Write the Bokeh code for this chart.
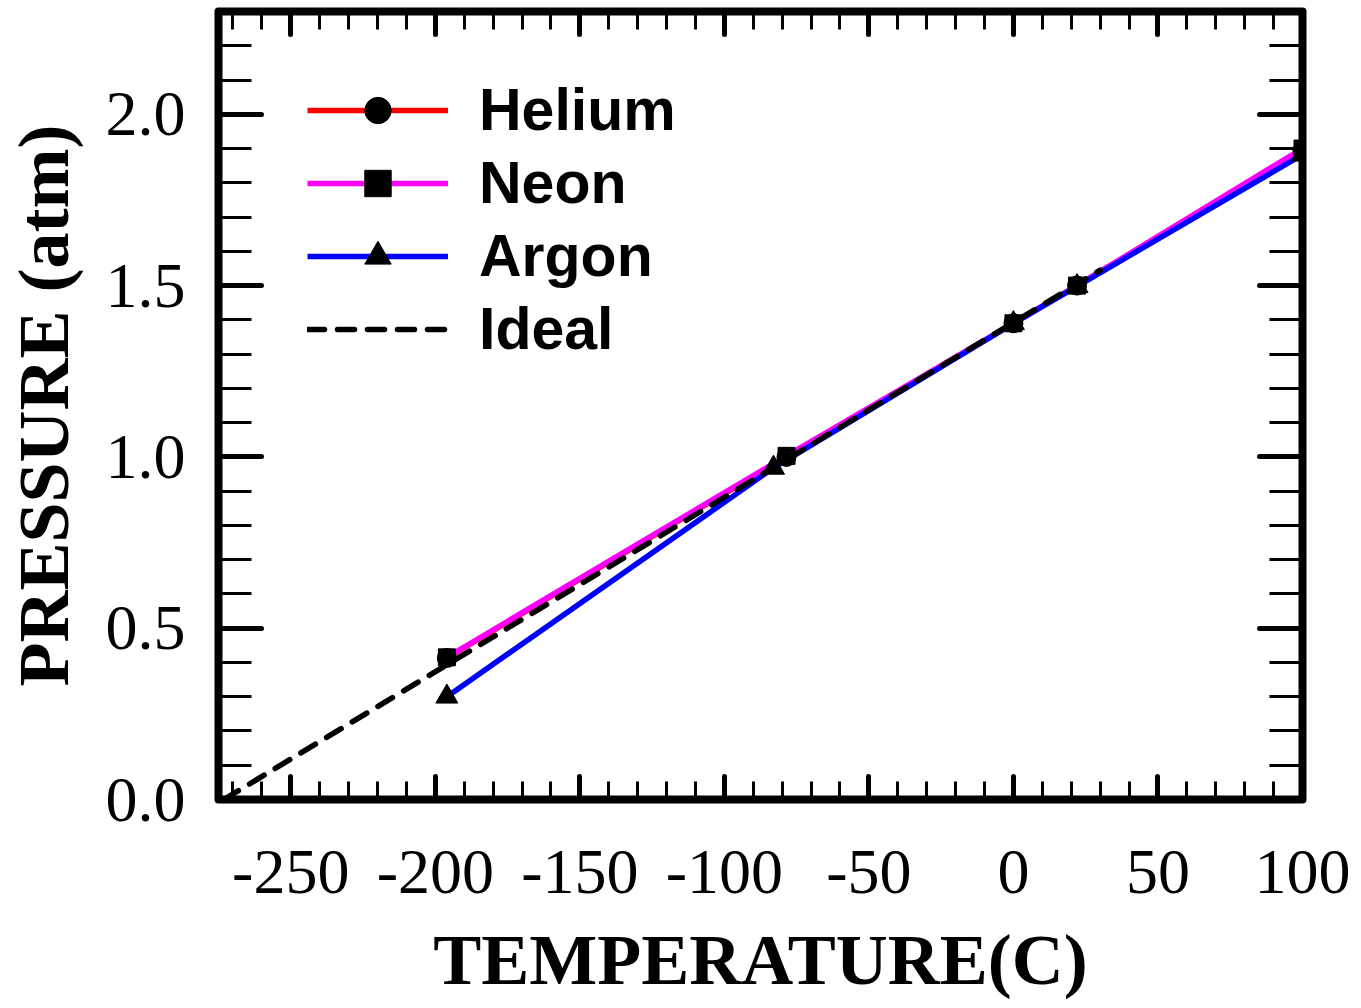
from bokeh.plotting import figure
from bokeh.models import LinearAxis, FixedTicker
from bokeh.embed import file_html
from bokeh.resources import INLINE

# ---- data ----
helium_t = [-196, -78.5, 0, 22, 100]
helium_p = [0.413, 1.00, 1.39, 1.50, 1.895]
neon_t = [-196, -78.5, 0, 22, 100]
neon_p = [0.415, 1.003, 1.39, 1.50, 1.90]
argon_t = [-196, -83, 0, 22, 100]
argon_p = [0.30, 0.968, 1.39, 1.498, 1.882]
ideal_t = [-273.15, 30]
ideal_p = [0.0, 1.545]

x_major = [-250, -200, -150, -100, -50, 0, 50, 100]
x_labels = ["-250", "-200", "-150", "-100", "-50", "0", "50", "100"]
x_minor = [-270, -260, -250, -240, -230, -220, -210, -200, -190, -180, -170, -160,
           -150, -140, -130, -120, -110, -100, -90, -80, -70, -60, -50, -40, -30,
           -20, -10, 0, 10, 20, 30, 40, 50, 60, 70, 80, 90, 100]
y_major = [0.0, 0.5, 1.0, 1.5, 2.0]
y_labels = ["0.0", "0.5", "1.0", "1.5", "2.0"]
y_minor = [0.0, 0.1, 0.2, 0.3, 0.4, 0.5, 0.6, 0.7, 0.8, 0.9, 1.0, 1.1, 1.2, 1.3,
           1.4, 1.5, 1.6, 1.7, 1.8, 1.9, 2.0, 2.1, 2.2, 2.3]

p = figure(width=1361, height=1008, x_range=(-275, 100), y_range=(0, 2.3),
           output_backend="svg", toolbar_location=None,
           min_border_left=218, min_border_right=59, min_border_top=11,
           min_border_bottom=209)
p.xgrid.grid_line_color = None
p.ygrid.grid_line_color = None
p.background_fill_color = "white"
p.border_fill_color = "white"
p.outline_line_color = "black"
p.outline_line_width = 8
p.outline_line_join = "round"

xt = FixedTicker(ticks=x_major, minor_ticks=x_minor)
yt = FixedTicker(ticks=y_major, minor_ticks=y_minor)

bottom = p.below[0]
left = p.left[0]
bottom.ticker = xt
left.ticker = yt
bottom.major_label_overrides = {v: s for v, s in zip(x_major, x_labels)}
left.major_label_overrides = {v: s for v, s in zip(y_major, y_labels)}

top = LinearAxis(ticker=xt)
right = LinearAxis(ticker=yt)
p.add_layout(top, "above")
p.add_layout(right, "right")

for ax in [bottom, top]:
    ax.major_tick_in = 23
    ax.major_tick_out = 0
    ax.minor_tick_in = 18
    ax.minor_tick_out = 0
for ax in [left, right]:
    ax.major_tick_in = 43
    ax.major_tick_out = 0
    ax.minor_tick_in = 33
    ax.minor_tick_out = 0
for ax in [bottom, top, left, right]:
    ax.axis_line_color = None
    ax.major_tick_line_width = 5
    ax.major_tick_line_color = "black"
    ax.major_tick_line_cap = "round"
    ax.minor_tick_line_width = 3
    ax.minor_tick_line_color = "black"
    ax.major_label_text_font = "Liberation Serif"
    ax.major_label_text_font_size = "64px"
    ax.major_label_text_color = "black"
    ax.axis_label_text_font = "Liberation Serif"
    ax.axis_label_text_font_style = "bold"
    ax.axis_label_text_font_size = "72px"
    ax.axis_label_text_color = "black"
for ax in [top, right]:
    ax.major_label_text_font_size = "0px"
    ax.major_label_standoff = 0
    ax.major_label_text_alpha = 0

bottom.axis_label = "TEMPERATURE(C)"
left.axis_label = "PRESSURE (atm)"
bottom.major_label_standoff = 51
bottom.axis_label_standoff = 24
left.major_label_standoff = 33
left.axis_label_standoff = 19

lw = 5.5
p.line(helium_t, helium_p, line_color="#ff0000", line_width=lw, legend_label="Helium")
p.line(neon_t, neon_p, line_color="#ff00ff", line_width=lw, legend_label="Neon")
p.line(argon_t, argon_p, line_color="#0000ff", line_width=lw, legend_label="Argon")
p.line(ideal_t, ideal_p, line_color="black", line_width=lw, line_dash="17 13",
       line_cap="round", legend_label="Ideal")
p.scatter(helium_t, helium_p, marker="circle", size=19, color="black", legend_label="Helium")
p.scatter(neon_t, neon_p, marker="square", size=17, color="black", legend_label="Neon")
p.scatter(argon_t, argon_p, marker="triangle", size=22, color="black", legend_label="Argon")

lg = p.legend[0]
lg.location = (89, 434)
lg.margin = 0
lg.padding = 0
lg.spacing = 0
lg.glyph_width = 141
lg.glyph_height = 66
lg.label_height = 73
lg.label_standoff = 31
lg.label_text_font = "Liberation Sans"
lg.label_text_font_style = "bold"
lg.label_text_font_size = "59px"
lg.label_text_color = "black"
lg.border_line_color = None
lg.background_fill_alpha = 0

open("out.html", "w").write(file_html(p, INLINE))
